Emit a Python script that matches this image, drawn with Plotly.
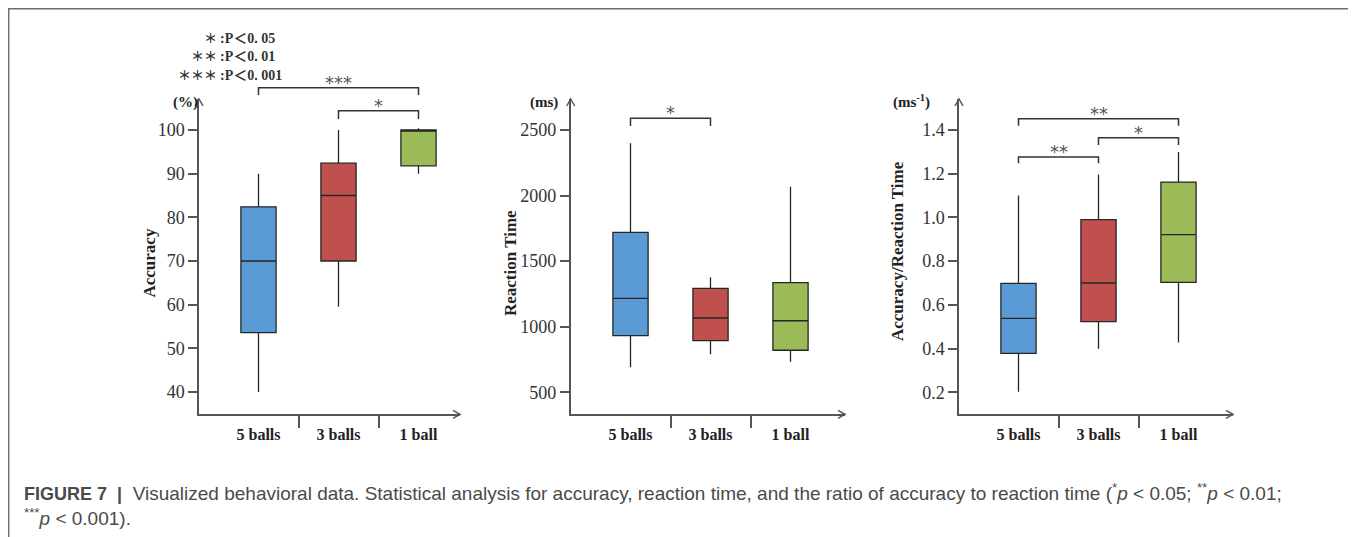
import plotly.graph_objects as go

# ---------------- data ----------------
categories = ["5 balls", "3 balls", "1 ball"]
positions = [0, 1, 2]
box_colors = ["#5B9BD5", "#C0504D", "#9BBB59"]

# Accuracy (%)
acc_lower = [40, 59.5, 90]
acc_q1 = [53.6, 70, 91.8]
acc_median = [70, 85, 100]
acc_q3 = [82.4, 92.4, 100]
acc_upper = [90, 100, 100.4]

# Reaction time (ms)
rt_lower = [691, 790, 734]
rt_q1 = [932, 894, 821]
rt_median = [1217, 1067, 1046]
rt_q3 = [1720, 1293, 1337]
rt_upper = [2399, 1377, 2068]

# Accuracy / Reaction time (ms^-1)
ratio_lower = [0.202, 0.399, 0.428]
ratio_q1 = [0.378, 0.523, 0.703]
ratio_median = [0.538, 0.70, 0.921]
ratio_q3 = [0.698, 0.99, 1.162]
ratio_upper = [1.10, 1.197, 1.30]

acc_ticks = [40, 50, 60, 70, 80, 90, 100]
rt_ticks = [500, 1000, 1500, 2000, 2500]
ratio_ticks = [0.2, 0.4, 0.6, 0.8, 1.0, 1.2, 1.4]

# significance brackets: (from, to, bar value, leg value, label)
acc_sig = [(0, 2, 109.7, 108.0, "***"), (1, 2, 104.4, 102.5, "*")]
rt_sig = [(0, 1, 2589, 2530, "*")]
ratio_sig = [(0, 1, 1.276, 1.248, "**"), (1, 2, 1.365, 1.332, "*"), (0, 2, 1.452, 1.420, "**")]

legend_stars = ["＊", "＊＊", "＊＊＊"]
legend_texts = [":P＜0. 05", ":P＜0. 01", ":P＜0. 001"]

caption_1 = ("<span style='font-size:18px'><b>FIGURE 7</b>  <b>|</b></span>  Visualized behavioral data. "
             "Statistical analysis for accuracy, reaction time, and the ratio of accuracy to reaction time "
             "(<sup>*</sup><i>p</i> &lt; 0.05; <sup>**</sup><i>p</i> &lt; 0.01;")
caption_2 = "<sup>***</sup><i>p</i> &lt; 0.001)."

# ---------------- layout helpers ----------------
OFF = 8                      # page offset of the plot div (body margin)
FW, FH = 1356 - OFF, 537 - OFF
SERIF = "Liberation Serif, Times New Roman, serif"
SANS = "Liberation Sans, Arial, sans-serif"
LEG_FONT = "Liberation Serif, Noto Sans CJK SC, serif"
AXIS_C = "#555555"


def px(x):
    return (x - OFF) / FW


def py(y):
    return 1 - (y - OFF) / FH


Y_BOTTOM, Y_TOP = 414.3, 99
UNIT = 80.0  # px per category

panels = [
    dict(x0=199, x1=460, c0=258.5, lo=acc_lower, q1=acc_q1, med=acc_median, q3=acc_q3, up=acc_upper,
         rng=[34.9, 107.1], ticks=acc_ticks, fmt="d", title="Accuracy", tx=138, ty=263,
         unit="(%)", ux=171, sig=acc_sig),
    dict(x0=570.7, x1=845, c0=630.5, lo=rt_lower, q1=rt_q1, med=rt_median, q3=rt_q3, up=rt_upper,
         rng=[333, 2736], ticks=rt_ticks, fmt="d", title="Reaction Time", tx=511, ty=263,
         unit="(ms)", ux=544, sig=rt_sig),
    dict(x0=959, x1=1233, c0=1018.5, lo=ratio_lower, q1=ratio_q1, med=ratio_median, q3=ratio_q3,
         up=ratio_upper, rng=[0.099, 1.542], ticks=ratio_ticks, fmt=".1f",
         title="Accuracy/Reaction Time", tx=898, ty=251, unit="(ms<sup>-1</sup>)", ux=932, sig=ratio_sig),
]

fig = go.Figure()
layout = dict(
    width=FW, height=FH, margin=dict(l=0, r=0, t=0, b=0),
    paper_bgcolor="white", plot_bgcolor="white", showlegend=False,
)
shapes = []
annotations = []

for i, p in enumerate(panels):
    n = "" if i == 0 else str(i + 1)
    xa, ya = "x" + n, "y" + n
    for k in range(3):
        fig.add_trace(go.Box(
            x=[positions[k]], lowerfence=[p["lo"][k]], q1=[p["q1"][k]], median=[p["med"][k]],
            q3=[p["q3"][k]], upperfence=[p["up"][k]], width=0.44, whiskerwidth=0,
            fillcolor=box_colors[k], line=dict(color="#262626", width=1.3),
            boxpoints=False, hoverinfo="skip", xaxis=xa, yaxis=ya,
        ))
    xr0 = (p["x0"] - p["c0"]) / UNIT
    xr1 = (p["x1"] - p["c0"]) / UNIT
    r0, r1 = p["rng"]
    layout["xaxis" + n] = dict(
        domain=[px(p["x0"]), px(p["x1"])], range=[xr0, xr1], anchor=ya,
        showline=True, linecolor=AXIS_C, linewidth=1.5, showgrid=False, zeroline=False,
        tickvals=positions, ticktext=["<b>%s</b>" % c for c in categories],
        ticks="outside", ticklen=5, tickcolor="rgba(0,0,0,0)",
        tickfont=dict(family=SERIF, size=16, color="#222222"),
        minor=dict(tickvals=[0.5, 1.5], ticks="outside", ticklen=12, tickcolor=AXIS_C, tickwidth=1.5),
        fixedrange=True,
    )
    layout["yaxis" + n] = dict(
        domain=[py(Y_BOTTOM), py(Y_TOP)], range=p["rng"], anchor=xa,
        showline=True, linecolor=AXIS_C, linewidth=1.5, showgrid=False, zeroline=False,
        tickvals=p["ticks"], tickformat=p["fmt"], ticks="outside", ticklen=9,
        tickcolor=AXIS_C, tickwidth=1.5,
        tickfont=dict(family=SERIF, size=18, color="#333333"), fixedrange=True,
    )
    # axis arrows
    shapes.append(dict(type="path", xref="paper", yref="paper", xsizemode="pixel", ysizemode="pixel",
                       xanchor=px(p["x0"]), yanchor=py(Y_TOP), path="M -4,-7 L 0,0 L 4,-7",
                       line=dict(color=AXIS_C, width=1.5)))
    shapes.append(dict(type="path", xref="paper", yref="paper", xsizemode="pixel", ysizemode="pixel",
                       xanchor=px(p["x1"]), yanchor=py(Y_BOTTOM), path="M -7,4 L 0,0 L -7,-4",
                       line=dict(color=AXIS_C, width=1.5)))
    # axis title
    annotations.append(dict(xref="paper", yref="paper", x=px(p["tx"]), y=py(p["ty"]),
                            text="<b>%s</b>" % p["title"], textangle=-90, showarrow=False,
                            font=dict(family=SERIF, size=17, color="#222222")))
    # unit
    annotations.append(dict(xref="paper", yref="paper", x=px(p["ux"]), y=py(113), yanchor="bottom",
                            text="<b>%s</b>" % p["unit"], showarrow=False,
                            font=dict(family=SERIF, size=15, color="#222222")))
    # significance brackets (placed in domain fractions so they may rise above the axis range)
    for a, b, ybar, yleg, lab in p["sig"]:
        fb = (ybar - r0) / (r1 - r0)
        fl = (yleg - r0) / (r1 - r0)
        shapes.append(dict(type="path", xref=xa, yref=ya + " domain",
                           path="M %s,%s L %s,%s L %s,%s L %s,%s" % (a, fl, a, fb, b, fb, b, fl),
                           line=dict(color="#333333", width=1.5)))
        annotations.append(dict(xref=xa, yref=ya + " domain", x=(a + b) / 2, y=fb, yanchor="bottom",
                                yshift=-7, text=lab, showarrow=False,
                                font=dict(family="DejaVu Sans, sans-serif", size=18, color="#555555")))

# significance legend (top left)
leg_y = [38.3, 56.5, 75]
for s, t, yy in zip(legend_stars, legend_texts, leg_y):
    annotations.append(dict(xref="paper", yref="paper", x=px(219), y=py(yy), xanchor="right",
                            yanchor="middle", text="<b>%s</b>" % s, showarrow=False,
                            font=dict(family=LEG_FONT, size=13, color="#333333")))
    annotations.append(dict(xref="paper", yref="paper", x=px(218), y=py(yy), xanchor="left",
                            yanchor="middle", text="<b>%s</b>" % t, showarrow=False,
                            font=dict(family=LEG_FONT, size=14, color="#333333")))

# caption
annotations.append(dict(xref="paper", yref="paper", x=px(22), y=py(492), xanchor="left",
                        yanchor="middle", text=caption_1, showarrow=False,
                        font=dict(family=SANS, size=19, color="#4a4a4a")))
annotations.append(dict(xref="paper", yref="paper", x=px(22), y=py(517), xanchor="left",
                        yanchor="middle", text=caption_2, showarrow=False,
                        font=dict(family=SANS, size=19, color="#4a4a4a")))

# outer frame
shapes.append(dict(type="rect", xref="paper", yref="paper", x0=px(8.7), x1=px(1353), y0=-0.1, y1=py(8.7),
                   line=dict(color="#6e6e6e", width=1.5)))

layout["shapes"] = shapes
layout["annotations"] = annotations
fig.update_layout(**layout)
fig.write_html("out.html")
